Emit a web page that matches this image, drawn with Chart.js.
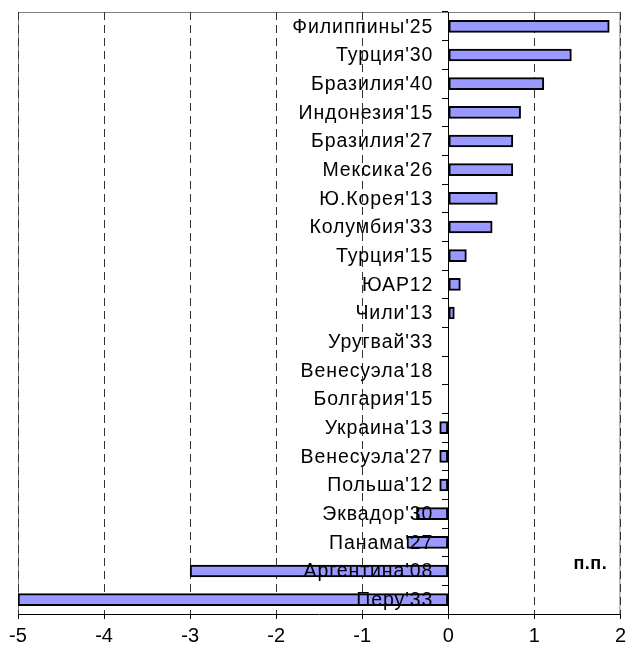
<!DOCTYPE html>
<html>
<head>
<meta charset="utf-8">
<script src="https://cdn.jsdelivr.net/npm/chart.js@4.4.1/dist/chart.umd.min.js"></script>
<style>
  html, body { margin: 0; padding: 0; background: #ffffff; }
  #wrap { width: 631px; height: 653px; }
</style>
</head>
<body>
<div id="wrap"><canvas id="c" width="631" height="653"></canvas></div>
<script>
// Изменение доходности суверенных выпусков, п.п.
const categories = ["Филиппины'25", "Турция'30", "Бразилия'40", "Индонезия'15", "Бразилия'27",
  "Мексика'26", "Ю.Корея'13", "Колумбия'33", "Турция'15", "ЮАР12", "Чили'13", "Уругвай'33",
  "Венесуэла'18", "Болгария'15", "Украина'13", "Венесуэла'27", "Польша'12", "Эквадор'30",
  "Панама'27", "Аргентина'08", "Перу'33"];
const changes = [1.87, 1.43, 1.11, 0.84, 0.75, 0.75, 0.57, 0.51, 0.21, 0.14, 0.07, 0, 0, 0,
  -0.1, -0.1, -0.1, -0.37, -0.48, -3.0, -5.0];
const xTicks = [-5, -4, -3, -2, -1, 0, 1, 2];
const unitLabel = 'п.п.';

const FONT = "'Liberation Sans', Arial, sans-serif";

// frame of the plot area (top, left, right sides)
const framePlugin = {
  id: 'frame',
  beforeDraw(chart) {
    const { ctx, chartArea: a } = chart;
    ctx.save();
    ctx.strokeStyle = '#808080';
    ctx.lineWidth = 1;
    ctx.beginPath();
    ctx.moveTo(a.left + 0.5, a.bottom);
    ctx.lineTo(a.left + 0.5, a.top + 0.5);
    ctx.lineTo(a.right - 0.5, a.top + 0.5);
    ctx.lineTo(a.right - 0.5, a.bottom);
    ctx.stroke();
    ctx.restore();
  }
};

// category names sit just left of the zero line, over the bars
const labelPlugin = {
  id: 'catLabels',
  afterDatasetsDraw(chart) {
    const { ctx, scales: { x, y } } = chart;
    const x0 = x.getPixelForValue(0);
    ctx.save();
    ctx.font = '19.5px ' + FONT;
    ctx.letterSpacing = '0.9px';
    ctx.fillStyle = '#000000';
    ctx.textAlign = 'right';
    ctx.textBaseline = 'middle';
    categories.forEach((name, i) => {
      ctx.fillText(name, x0 - 15, y.getPixelForValue(i) + 1);
    });
    ctx.letterSpacing = '0.5px';
    ctx.font = 'bold 18px ' + FONT;
    ctx.textAlign = 'center';
    ctx.fillText(unitLabel, x.getPixelForValue(1.65), y.getPixelForValue(18.75));
    ctx.restore();
  }
};

new Chart(document.getElementById('c'), {
  type: 'bar',
  data: {
    labels: categories,
    datasets: [{
      data: changes,
      backgroundColor: '#9999FF',
      borderColor: '#000000',
      borderWidth: 2,
      borderSkipped: false,
      barThickness: 12
    }]
  },
  options: {
    indexAxis: 'y',
    responsive: false,
    devicePixelRatio: 1,
    animation: false,
    layout: { padding: { top: 12, left: 18, right: 0, bottom: 0 } },
    plugins: {
      legend: { display: false },
      title: { display: false },
      tooltip: { enabled: false }
    },
    scales: {
      x: {
        type: 'linear',
        min: xTicks[0],
        max: xTicks[xTicks.length - 1],
        afterBuildTicks(scale) { scale.ticks = xTicks.map(v => ({ value: v })); },
        ticks: {
          color: '#000000',
          font: { family: FONT, size: 20 },
          padding: 5,
          maxRotation: 0
        },
        grid: {
          color: '#333333',
          lineWidth: 1,
          drawTicks: true,
          tickLength: 5,
          tickColor: '#000000'
        },
        border: { display: true, color: '#000000', width: 1, dash: [8, 5] }
      },
      y: {
        type: 'category',
        position: { x: 0 },
        offset: true,
        ticks: { display: false },
        grid: {
          offset: true,
          drawOnChartArea: false,
          drawTicks: true,
          tickLength: 6,
          tickColor: '#000000',
          color: '#000000'
        },
        border: { display: true, color: '#000000', width: 1 }
      }
    }
  },
  plugins: [framePlugin, labelPlugin]
});
</script>
</body>
</html>
